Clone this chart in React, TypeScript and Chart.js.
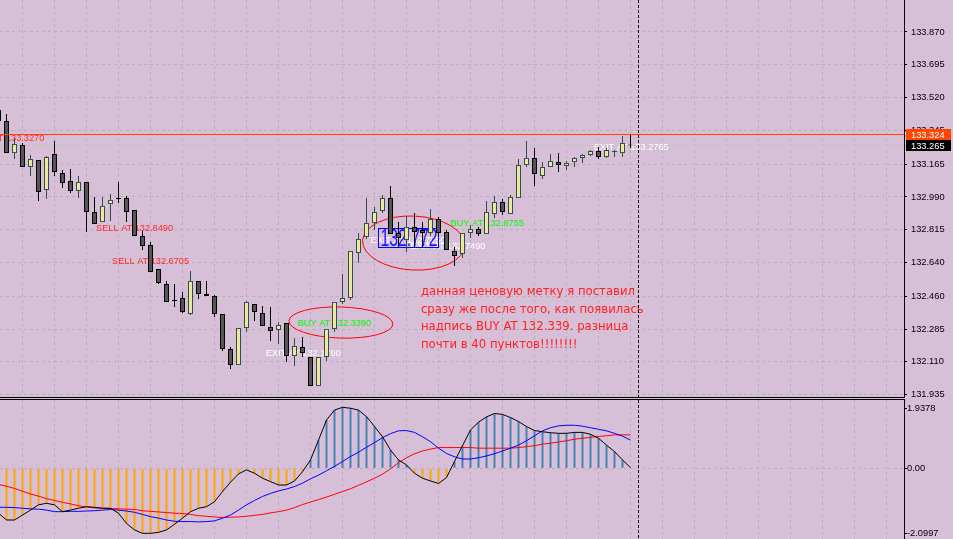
import React, { useEffect, useRef } from "react";
import { Chart, registerables } from "chart.js";

Chart.register(...registerables);

// ---------------- data ----------------
// bar index of the first candle (bars are counted left to right)
const FIRST_BAR = -1;

const opens = [
  133.454, 133.395, 133.224, 133.267, 133.150, 133.187, 133.027, 133.219, 133.118, 133.075,
  133.022, 133.070, 132.910, 132.856, 132.952, 132.984, 132.984, 132.920, 132.782, 132.734,
  132.606, 132.526, 132.440, 132.451, 132.366, 132.542, 132.472, 132.462, 132.366, 132.179,
  132.093, 132.291, 132.419, 132.371, 132.296, 132.280, 132.318, 132.141, 132.189, 132.136,
  131.981, 132.136, 132.286, 132.430, 132.451, 132.691, 132.776, 132.851, 132.915, 132.984,
  132.798, 132.760, 132.830, 132.814, 132.798, 132.872, 132.803, 132.702, 132.686, 132.798,
  132.819, 132.792, 132.899, 132.963, 132.899, 132.984, 133.160, 133.198, 133.102, 133.150,
  133.176, 133.155, 133.176, 133.198, 133.214, 133.235, 133.203, 133.230, 133.224, 133.267,
];
const highs = [
  133.470, 133.433, 133.305, 133.278, 133.214, 133.187, 133.208, 133.288, 133.134, 133.139,
  133.102, 133.070, 132.990, 132.990, 133.006, 133.070, 132.995, 132.920, 132.808, 132.750,
  132.606, 132.542, 132.526, 132.483, 132.595, 132.542, 132.542, 132.467, 132.366, 132.189,
  132.291, 132.435, 132.419, 132.408, 132.403, 132.323, 132.318, 132.238, 132.243, 132.136,
  132.136, 132.286, 132.430, 132.579, 132.702, 132.798, 132.984, 132.936, 133.000, 133.048,
  132.856, 132.888, 132.904, 132.856, 132.926, 132.883, 132.814, 132.723, 132.798, 132.840,
  132.830, 132.968, 132.995, 132.979, 133.000, 133.192, 133.288, 133.251, 133.176, 133.219,
  133.224, 133.182, 133.203, 133.219, 133.240, 133.256, 133.251, 133.240, 133.315, 133.320,
];
const lows = [
  133.374, 133.224, 133.192, 133.150, 133.102, 132.968, 132.979, 133.102, 133.038, 133.011,
  132.984, 132.803, 132.846, 132.856, 132.862, 132.958, 132.856, 132.782, 132.707, 132.590,
  132.526, 132.430, 132.403, 132.371, 132.360, 132.446, 132.462, 132.350, 132.168, 132.072,
  132.093, 132.269, 132.328, 132.302, 132.222, 132.206, 132.109, 132.088, 132.136, 131.981,
  131.981, 132.115, 132.269, 132.419, 132.440, 132.638, 132.766, 132.814, 132.904, 132.792,
  132.718, 132.696, 132.723, 132.723, 132.782, 132.782, 132.707, 132.622, 132.664, 132.771,
  132.782, 132.792, 132.878, 132.894, 132.899, 132.984, 133.150, 133.048, 133.086, 133.150,
  133.123, 133.134, 133.150, 133.171, 133.208, 133.192, 133.198, 133.203, 133.203, 133.251,
];
const closes = [
  133.395, 133.224, 133.272, 133.150, 133.192, 133.016, 133.203, 133.123, 133.064, 133.022,
  133.070, 132.910, 132.846, 132.942, 132.974, 132.979, 132.910, 132.782, 132.728, 132.590,
  132.531, 132.430, 132.435, 132.376, 132.542, 132.472, 132.462, 132.366, 132.179, 132.093,
  132.291, 132.430, 132.376, 132.302, 132.275, 132.307, 132.141, 132.195, 132.157, 131.981,
  132.136, 132.286, 132.430, 132.451, 132.702, 132.766, 132.851, 132.910, 132.984, 132.792,
  132.771, 132.830, 132.803, 132.798, 132.872, 132.798, 132.707, 132.675, 132.798, 132.819,
  132.792, 132.910, 132.963, 132.910, 132.990, 133.160, 133.198, 133.112, 133.150, 133.182,
  133.160, 133.171, 133.198, 133.214, 133.235, 133.203, 133.240, 133.231, 133.278, 133.265,
];

// lower panel (oscillator): histogram/black line, blue line, red line
const macdMain = [
  -1.45, -1.67, -1.67, -1.51, -1.35, -1.18, -1.13, -1.18, -1.40, -1.35,
  -1.29, -1.24, -1.26, -1.29, -1.29, -1.45, -1.78, -1.99, -2.10, -2.10,
  -2.07, -1.99, -1.81, -1.61, -1.40, -1.29, -1.24, -1.08, -0.75, -0.45,
  -0.18, -0.05, -0.16, -0.32, -0.43, -0.54, -0.54, -0.41, -0.11, 0.27,
  0.91, 1.56, 1.88, 1.97, 1.94, 1.88, 1.67, 1.35, 1.02, 0.59,
  0.27, 0.11, -0.16, -0.32, -0.41, -0.49, -0.30, 0.22, 0.73, 1.24,
  1.49, 1.66, 1.77, 1.74, 1.64, 1.51, 1.35, 1.22, 1.18, 1.15,
  1.13, 1.13, 1.16, 1.16, 1.10, 0.97, 0.75, 0.54, 0.27, 0.02,
];
const macdBlue = [
  -1.26, -1.26, -1.27, -1.29, -1.31, -1.32, -1.35, -1.40, -1.40, -1.39,
  -1.39, -1.38, -1.37, -1.35, -1.33, -1.35, -1.38, -1.42, -1.49, -1.56,
  -1.61, -1.67, -1.71, -1.72, -1.72, -1.73, -1.72, -1.70, -1.61, -1.51,
  -1.35, -1.18, -1.04, -0.91, -0.81, -0.73, -0.67, -0.59, -0.48, -0.34,
  -0.22, -0.08, 0.06, 0.22, 0.38, 0.52, 0.68, 0.83, 0.99, 1.12,
  1.21, 1.22, 1.16, 1.02, 0.86, 0.65, 0.48, 0.37, 0.30, 0.30,
  0.34, 0.40, 0.47, 0.56, 0.65, 0.75, 0.89, 1.05, 1.21, 1.31,
  1.37, 1.39, 1.39, 1.36, 1.31, 1.26, 1.21, 1.13, 1.04, 0.91,
];
const macdRed = [
  -0.52, -0.58, -0.65, -0.74, -0.83, -0.90, -0.98, -1.04, -1.10, -1.15,
  -1.21, -1.25, -1.28, -1.29, -1.30, -1.31, -1.32, -1.33, -1.37, -1.39,
  -1.41, -1.43, -1.45, -1.46, -1.49, -1.53, -1.55, -1.57, -1.59, -1.58,
  -1.57, -1.55, -1.52, -1.49, -1.44, -1.40, -1.35, -1.27, -1.17, -1.09,
  -1.01, -0.93, -0.84, -0.75, -0.66, -0.55, -0.44, -0.32, -0.19, -0.02,
  0.18, 0.34, 0.47, 0.56, 0.62, 0.67, 0.67, 0.67, 0.67, 0.67,
  0.65, 0.65, 0.65, 0.65, 0.65, 0.67, 0.70, 0.73, 0.78, 0.81,
  0.85, 0.89, 0.94, 0.97, 1.00, 1.03, 1.05, 1.08, 1.08, 1.08,
];

const priceTickLabels = [
  "133.870", "133.695", "133.520", "133.345", "133.165", "132.990",
  "132.815", "132.640", "132.460", "132.285", "132.110", "131.935",
];
const macdTickLabels = ["1.9378", "0.00", "-2.0997"];

const askPrice = 133.324;
const bidPrice = 133.265;

const tradeLabelTexts = [
  "SELL AT 133.3270", "SELL AT 132.8490", "SELL AT 132.6705", "EXIT AT 132.1790",
  "BUY AT 132.3390", "EXIT AT 132.7850", "EXIT AT 132.7490", "BUY AT 132.8755", "EXIT AT 133.2765",
];
const tradeLabelPrices = [133.327, 132.849, 132.6705, 132.179, 132.339, 132.785, 132.749, 132.8755, 133.2765];
const tradeLabelBars = [-4.9, 11.2, 13.2, 32.4, 36.4, 45.5, 50.5, 55.5, 73.4];

const priceTagText = "132.772";
const priceTagPrice = 132.772;
const priceTagBars = [46.4, 53.9];

const circledBars = [50.9, 41.8];
const circledPrices = [132.744, 132.32];
const circledBarRadius = [6.4, 6.5];
const circledPriceRadius = [0.144, 0.083];

const noteLines = [
  "данная ценовую метку я поставил",
  "сразу же после того, как появилась",
  "надпись BUY AT 132.339. разница",
  "почти в 40 пунктов!!!!!!!!",
];
const noteBar = 51.8;
const notePrice = 132.483;

const markerBar = 79;

// ---------------- layout / style ----------------
const W = 953;
const MAIN_H = 397;
const MACD_TOP = 400;
const MACD_H = 139;
const AXIS_W = 49;
const X_MIN = -0.8125;
const X_MAX = 112.1875;
const PRICE_MIN = 131.9227;
const PRICE_MAX = 134.0407;
const MACD_MIN = -2.2836;
const MACD_MAX = 2.206;

const BG = "#d8bfd8";
const GRID = "#b9b1b9";
const BULL_FILL = "#eee89c";
const BEAR_FILL = "#555555";
const BULL_LINE = "#2f4f4f";
const BEAR_LINE = "#000000";
const AXIS_FONT = { family: "Liberation Sans", size: 9.3 };

const barIndex = opens.map((_, i) => FIRST_BAR + i);
const isBull = closes.map((c, i) => c >= opens[i]);
const gridBars = Array.from({ length: 28 }, (_, i) => 2 + 4 * i);

function zeroPadding(s: any) {
  s.paddingTop = 0;
  s.paddingBottom = 0;
  s.paddingLeft = 0;
  s.paddingRight = 0;
}

function xScaleOptions() {
  return {
    type: "linear" as const,
    min: X_MIN,
    max: X_MAX,
    offset: false,
    ticks: { display: false },
    grid: { color: GRID, drawTicks: false, lineWidth: 1, offset: false },
    border: { display: false, dash: [3, 3] },
    afterBuildTicks: (s: any) => {
      s.ticks = gridBars.map((v) => ({ value: v }));
    },
    afterFit: (s: any) => {
      s.height = 0;
      zeroPadding(s);
    },
  };
}

function drawMarker(chart: any) {
  const { ctx, chartArea: a, scales } = chart;
  const x = Math.round(scales.x.getPixelForValue(markerBar) - 0.5) + 0.5;
  ctx.save();
  ctx.strokeStyle = "#000";
  ctx.lineWidth = 1;
  ctx.setLineDash([3, 2]);
  ctx.beginPath();
  ctx.moveTo(x, a.top);
  ctx.lineTo(x, a.bottom);
  ctx.stroke();
  ctx.restore();
}

const mainOverlay = {
  id: "mainOverlay",
  beforeDatasetsDraw(chart: any) {
    const { ctx, chartArea: a, scales } = chart;
    const px = (b: number) => scales.x.getPixelForValue(b);
    const py = (p: number) => scales.y.getPixelForValue(p);
    ctx.save();
    ctx.beginPath();
    ctx.rect(a.left, a.top, a.right - a.left, a.bottom - a.top);
    ctx.clip();

    // bid line
    const yb = Math.round(py(bidPrice) - 0.5) + 0.5;
    ctx.strokeStyle = "#c4c4c4";
    ctx.lineWidth = 1;
    ctx.beginPath();
    ctx.moveTo(a.left, yb);
    ctx.lineTo(a.right, yb);
    ctx.stroke();

    // trade labels
    ctx.font = '9.2px "Liberation Sans"';
    ctx.textBaseline = "top";
    ctx.textAlign = "left";
    tradeLabelTexts.forEach((t, i) => {
      ctx.fillStyle = t.startsWith("SELL") ? "#ff2a2a" : t.startsWith("BUY") ? "#00ff00" : "#ffffff";
      ctx.fillText(t, px(tradeLabelBars[i]), py(tradeLabelPrices[i]));
    });

    // price tag box
    const bx0 = Math.round(px(priceTagBars[0])) + 0.5;
    const bx1 = Math.round(px(priceTagBars[1])) + 0.5;
    const yc = py(priceTagPrice);
    const by0 = Math.round(yc - 9.5) + 0.5;
    const by1 = by0 + 19;
    ctx.strokeStyle = "#0000ff";
    ctx.strokeRect(bx0, by0, bx1 - bx0, by1 - by0);
    ctx.fillStyle = "#1a1aff";
    ctx.font = '23px "Liberation Sans"';
    ctx.textBaseline = "alphabetic";
    ctx.fillText(priceTagText, bx0 + 2, yc + 8.3, bx1 - bx0 - 3);

    // hand-drawn circles
    ctx.strokeStyle = "#ff0000";
    ctx.lineWidth = 1;
    circledBars.forEach((b, i) => {
      const cx = px(b);
      const cy = py(circledPrices[i]);
      const rx = Math.abs(px(b + circledBarRadius[i]) - cx);
      const ry = Math.abs(py(circledPrices[i] + circledPriceRadius[i]) - cy);
      ctx.beginPath();
      ctx.ellipse(cx, cy, rx, ry, i === 0 ? 0.05 : 0.03, 0, Math.PI * 2);
      ctx.stroke();
    });

    // note
    ctx.fillStyle = "#ff2222";
    ctx.font = '11.7px "DejaVu Sans"';
    ctx.textBaseline = "middle";
    const nx = px(noteBar);
    const ny = py(notePrice);
    noteLines.forEach((l, i) => ctx.fillText(l, nx, ny + i * 17.5));
    ctx.restore();
  },
  afterDatasetsDraw(chart: any) {
    const { ctx, chartArea: a, scales } = chart;
    const ya = Math.round(scales.y.getPixelForValue(askPrice) - 0.5) + 0.5;
    ctx.save();
    ctx.strokeStyle = "#ff4500";
    ctx.lineWidth = 1;
    ctx.beginPath();
    ctx.moveTo(a.left, ya);
    ctx.lineTo(a.right, ya);
    ctx.stroke();
    ctx.restore();
    drawMarker(chart);
  },
  afterDraw(chart: any) {
    const { ctx, chartArea: a, scales } = chart;
    const tag = (price: number, fill: string) => {
      const top = Math.round(scales.y.getPixelForValue(price) - 5.5);
      ctx.fillStyle = fill;
      ctx.fillRect(a.right + 2, top, 45, 11);
      ctx.fillStyle = "#ffffff";
      ctx.font = '9.3px "Liberation Sans"';
      ctx.textBaseline = "middle";
      ctx.textAlign = "left";
      ctx.fillText(price.toFixed(3), a.right + 7, top + 6);
    };
    ctx.save();
    tag(askPrice, "#ff4500");
    tag(bidPrice, "#000000");
    ctx.restore();
  },
};

const macdOverlay = {
  id: "macdOverlay",
  afterDatasetsDraw(chart: any) {
    drawMarker(chart);
  },
};

function mainConfig(): any {
  return {
    type: "bar",
    data: {
      datasets: [
        {
          label: "body",
          data: barIndex.map((x, i) => ({ x, y: [opens[i], closes[i]] })),
          backgroundColor: isBull.map((b) => (b ? BULL_FILL : BEAR_FILL)),
          borderColor: isBull.map((b) => (b ? BULL_LINE : BEAR_LINE)),
          borderWidth: 1,
          borderSkipped: false,
          barThickness: 5,
          grouped: false,
          minBarLength: 1,
          inflateAmount: 0,
          order: 0,
        },
        {
          label: "wick",
          data: barIndex.map((x, i) => ({ x, y: [lows[i], highs[i]] })),
          backgroundColor: isBull.map((b) => (b ? BULL_LINE : BEAR_LINE)),
          borderWidth: 0,
          barThickness: 1,
          grouped: false,
          inflateAmount: 0,
          order: 1,
        },
      ],
    },
    options: {
      responsive: false,
      animation: false,
      devicePixelRatio: 1,
      events: [],
      layout: { padding: 0, autoPadding: false },
      plugins: { legend: { display: false }, tooltip: { enabled: false } },
      scales: {
        x: xScaleOptions(),
        y: {
          type: "linear",
          position: "right",
          min: PRICE_MIN,
          max: PRICE_MAX,
          afterBuildTicks: (s: any) => {
            s.ticks = priceTickLabels.map((l) => ({ value: parseFloat(l) }));
          },
          ticks: {
            callback: (_v: any, i: number) => priceTickLabels[i],
            font: AXIS_FONT,
            color: "#000",
            padding: 4,
            autoSkip: false,
          },
          grid: { color: GRID, tickColor: "#000", tickLength: 3, tickBorderDash: [], drawTicks: true },
          border: { display: true, color: "#000", width: 1, dash: [3, 3] },
          afterFit: (s: any) => {
            s.width = AXIS_W;
            zeroPadding(s);
          },
        },
      },
    },
    plugins: [mainOverlay],
  };
}

function macdConfig(): any {
  const pts = (arr: number[]) => barIndex.map((x, i) => ({ x, y: arr[i] }));
  return {
    type: "bar",
    data: {
      datasets: [
        { type: "line", data: pts(macdMain), borderColor: "#000000", borderWidth: 1, pointRadius: 0, tension: 0, order: 0 },
        { type: "line", data: pts(macdBlue), borderColor: "#0000ff", borderWidth: 1, pointRadius: 0, tension: 0, order: 1 },
        { type: "line", data: pts(macdRed), borderColor: "#ff0000", borderWidth: 1, pointRadius: 0, tension: 0, order: 2 },
        {
          type: "bar",
          data: pts(macdMain),
          backgroundColor: macdMain.map((v) => (v >= 0 ? "#4682b4" : "#ffa500")),
          borderWidth: 0,
          barThickness: 2,
          grouped: false,
          inflateAmount: 0,
          order: 3,
        },
      ],
    },
    options: {
      responsive: false,
      animation: false,
      devicePixelRatio: 1,
      events: [],
      layout: { padding: 0, autoPadding: false },
      plugins: { legend: { display: false }, tooltip: { enabled: false } },
      scales: {
        x: xScaleOptions(),
        y: {
          type: "linear",
          position: "right",
          min: MACD_MIN,
          max: MACD_MAX,
          afterBuildTicks: (s: any) => {
            s.ticks = macdTickLabels.map((l) => ({ value: parseFloat(l) }));
          },
          ticks: {
            callback: (_v: any, i: number) => macdTickLabels[i],
            font: AXIS_FONT,
            color: "#000",
            padding: 0,
            autoSkip: false,
          },
          grid: {
            color: (c: any) => (c.tick && c.tick.value === 0 ? GRID : "rgba(0,0,0,0)"),
            tickColor: "#000",
            tickLength: 3,
            tickBorderDash: [],
            drawTicks: true,
          },
          border: { display: true, color: "#000", width: 1, dash: [3, 3] },
          afterFit: (s: any) => {
            s.width = AXIS_W;
            zeroPadding(s);
          },
        },
      },
    },
    plugins: [macdOverlay],
  };
}

export default function App() {
  const mainRef = useRef<HTMLCanvasElement>(null);
  const macdRef = useRef<HTMLCanvasElement>(null);

  useEffect(() => {
    const main = new Chart(mainRef.current as HTMLCanvasElement, mainConfig());
    const macd = new Chart(macdRef.current as HTMLCanvasElement, macdConfig());
    return () => {
      main.destroy();
      macd.destroy();
    };
  }, []);

  return (
    <div
      style={{
        position: "fixed",
        left: 0,
        top: 0,
        width: W,
        height: 539,
        background: BG,
        overflow: "hidden",
      }}
    >
      <canvas
        ref={mainRef}
        width={W}
        height={MAIN_H}
        style={{ position: "absolute", left: 0, top: 0, width: W, height: MAIN_H }}
      />
      <div style={{ position: "absolute", left: 0, top: 397, width: 905, height: 1, background: "#000" }} />
      <div style={{ position: "absolute", left: 0, top: 399, width: 905, height: 1, background: "#000" }} />
      <canvas
        ref={macdRef}
        width={W}
        height={MACD_H}
        style={{ position: "absolute", left: 0, top: MACD_TOP, width: W, height: MACD_H }}
      />
    </div>
  );
}
